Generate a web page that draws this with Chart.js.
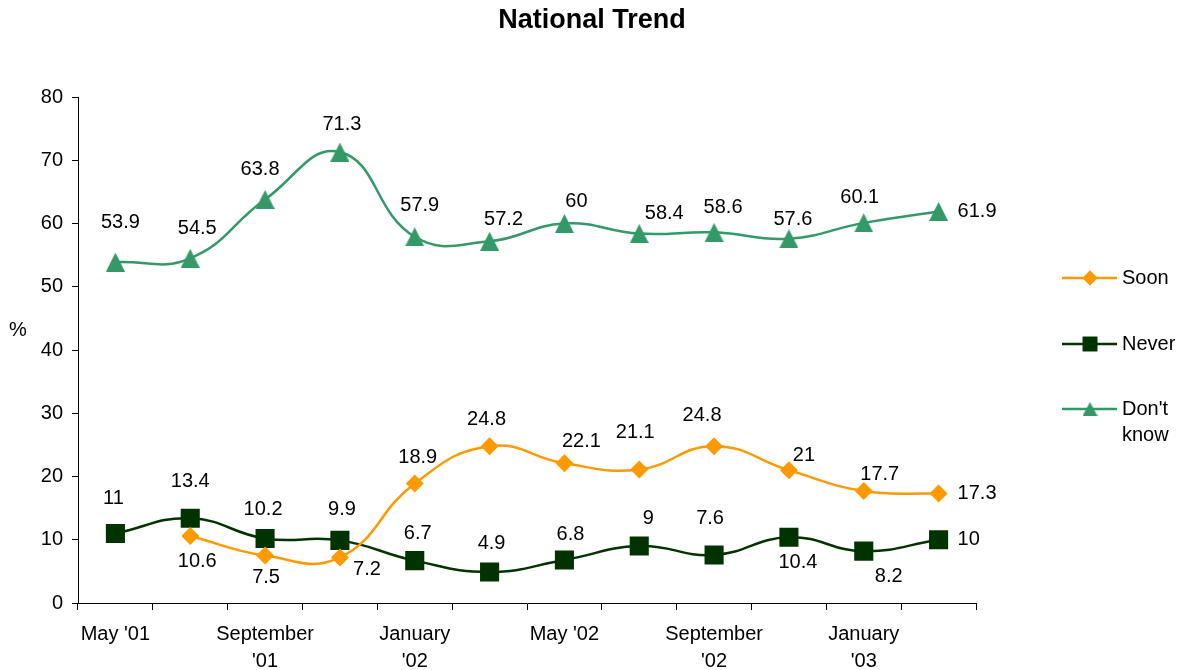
<!DOCTYPE html>
<html>
<head>
<meta charset="utf-8">
<title>National Trend</title>
<script src="https://cdn.jsdelivr.net/npm/chart.js@4/dist/chart.umd.min.js"></script>
<style>
  html, body { margin: 0; padding: 0; background: #fff; }
  #wrap { width: 1185px; height: 670px; position: relative; }
</style>
</head>
<body>
<div id="wrap"><canvas id="chart" width="1185" height="670"></canvas></div>
<script>
// ---------------------------------------------------------------------------
// Data
// ---------------------------------------------------------------------------
const categories = [
  "May '01", '', ['September', "'01"], '', ['January', "'02"], '',
  "May '02", '', ['September', "'02"], '', ['January', "'03"], ''
];
const soon     = [null, 10.6, 7.5, 7.2, 18.9, 24.8, 22.1, 21.1, 24.8, 21, 17.7, 17.3];
const never    = [11, 13.4, 10.2, 9.9, 6.7, 4.9, 6.8, 9, 7.6, 10.4, 8.2, 10];
const dontKnow = [53.9, 54.5, 63.8, 71.3, 57.9, 57.2, 60, 58.4, 58.6, 57.6, 60.1, 61.9];
const yTicks   = [0, 10, 20, 30, 40, 50, 60, 70, 80];

// label placement per point, [dx, dy] in px from the marker ('R' = to the right)
const soonLbl  = [null, [7, 26], [1, 22], [27, 12], [3, -26], [-3, -27], [17, -22], [-4, -37], [-12, -31], [15, -15], [16, -17], 'R'];
const neverLbl = [[-2, -35], [0, -37], [-2, -29], [2, -31], [3, -27], [2, -29], [6, -26], [9, -28], [-4, -36], [9, 25], [25, 25], 'R'];
const dkLbl    = [[5, -40], [7, -30], [-5, -30], [2, -28], [5, -31], [14, -22], [12, -22], [25, -20], [9, -25], [4, -19], [-4, -25], 'R'];

const C = {
  soon:  '#ff9900',
  never: '#003300',
  dk:    '#339966',
  ink:   '#000000',
};
const FONT = '"Liberation Sans", Arial, sans-serif';

// Excel-style triangle: box centred on the data point
function triangleImg(w, h, color){
  const c = document.createElement('canvas');
  c.width = w; c.height = h;
  const g = c.getContext('2d');
  g.fillStyle = color;
  g.beginPath();
  g.moveTo(w / 2, 0);
  g.lineTo(w, h);
  g.lineTo(0, h);
  g.closePath();
  g.fill();
  return c;
}
const triBig   = triangleImg(19, 19, C.dk);
const triSmall = triangleImg(15, 14, C.dk);

// ---------------------------------------------------------------------------
// Plugins: value labels, legend with line+marker, title and % label
// ---------------------------------------------------------------------------
const valueLabels = {
  id: 'valueLabels',
  afterDatasetsDraw(chart){
    const ctx = chart.ctx;
    ctx.save();
    ctx.font = '20px ' + FONT;
    ctx.fillStyle = C.ink;
    ctx.textBaseline = 'middle';
    chart.data.datasets.forEach((ds, i) => {
      const meta = chart.getDatasetMeta(i);
      meta.data.forEach((pt, j) => {
        const v = ds.data[j];
        const pos = ds.labelPos[j];
        if (v == null || !pos) return;
        if (pos === 'R'){
          ctx.textAlign = 'left';
          ctx.fillText(String(v), pt.x + 19, pt.y);
        } else {
          ctx.textAlign = 'center';
          ctx.fillText(String(v), pt.x + pos[0], pt.y + pos[1]);
        }
      });
    });
    ctx.restore();
  }
};

const sideLegend = {
  id: 'sideLegend',
  afterDraw(chart){
    const ctx = chart.ctx;
    const rows = [
      { ds: 0, y: 278, r: 7.5,  marker: 'rectRot',  text: ['Soon'] },
      { ds: 1, y: 344, r: 10.3, marker: 'rect',     text: ['Never'] },
      { ds: 2, y: 409, r: 8,    marker: triSmall,   text: ["Don't", 'know'] },
    ];
    ctx.save();
    rows.forEach(r => {
      const ds = chart.data.datasets[r.ds];
      ctx.strokeStyle = ds.borderColor;
      ctx.lineWidth = ds.borderWidth;
      ctx.beginPath();
      ctx.moveTo(1062, r.y);
      ctx.lineTo(1117, r.y);
      ctx.stroke();
      ctx.fillStyle = ds.borderColor;
      Chart.helpers.drawPoint(ctx, { pointStyle: r.marker, radius: r.r, borderWidth: 0 }, 1090, r.y);
      if (typeof r.marker === 'string') ctx.fill();
      ctx.fillStyle = C.ink;
      ctx.font = '20px ' + FONT;
      ctx.textAlign = 'left';
      ctx.textBaseline = 'middle';
      r.text.forEach((t, k) => ctx.fillText(t, 1122, r.y + k * 26));
    });
    // title
    ctx.font = 'bold 27px ' + FONT;
    ctx.textAlign = 'center';
    ctx.fillText('National Trend', 592, 21);
    // y axis unit
    ctx.font = '20px ' + FONT;
    ctx.fillText('%', 18, 330);
    ctx.restore();
  }
};

// ---------------------------------------------------------------------------
// Chart
// ---------------------------------------------------------------------------
function series(label, data, color, style, radius, lbl){
  return {
    label, data,
    borderColor: color,
    backgroundColor: color,
    pointBackgroundColor: color,
    pointBorderColor: color,
    pointBorderWidth: 0,
    borderWidth: 2.5,
    pointStyle: style,
    pointRadius: radius,
    pointHoverRadius: radius,
    tension: 0.45,
    labelPos: lbl,
  };
}

new Chart(document.getElementById('chart'), {
  type: 'line',
  data: {
    labels: categories,
    datasets: [
      series('Soon', soon, C.soon, 'rectRot', 9, soonLbl),
      series('Never', never, C.never, 'rect', 13.5, neverLbl),
      series("Don't know", dontKnow, C.dk, triBig, 10, dkLbl),
    ],
  },
  options: {
    responsive: false,
    animation: false,
    layout: { padding: { left: 0, top: 97, right: 209, bottom: 0 } },
    plugins: {
      legend: { display: false },
      title: { display: false },
      tooltip: { enabled: false },
    },
    scales: {
      x: {
        type: 'category',
        offset: true,
        grid: { offset: true, drawOnChartArea: false, drawTicks: true, tickLength: 7, color: C.ink, lineWidth: 1 },
        border: { color: C.ink, width: 1 },
        ticks: {
          autoSkip: false, maxRotation: 0, minRotation: 0,
          color: C.ink, padding: 11,
          font: { family: FONT, size: 20, lineHeight: 1.35 },
        },
        afterFit(scale){ scale.height = 67; },
      },
      y: {
        min: 0, max: 80,
        afterBuildTicks(scale){ scale.ticks = yTicks.map(v => ({ value: v })); },
        grid: { drawOnChartArea: false, drawTicks: true, tickLength: 6, color: C.ink },
        border: { color: C.ink, width: 1 },
        ticks: { color: C.ink, padding: 9, font: { family: FONT, size: 20 } },
        afterFit(scale){ scale.width = 78; },
      },
    },
  },
  plugins: [valueLabels, sideLegend],
});
</script>
</body>
</html>
